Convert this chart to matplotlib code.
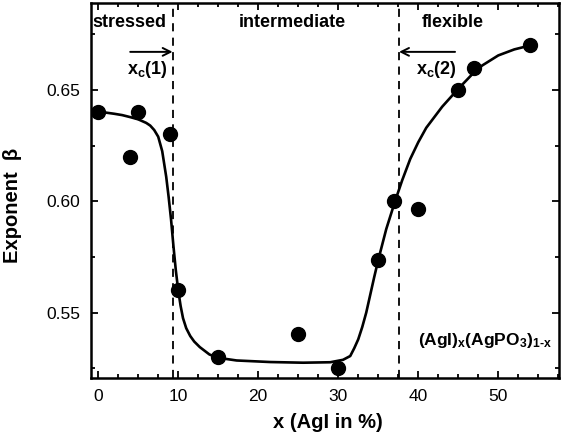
import matplotlib
matplotlib.use("Agg")
import matplotlib.pyplot as plt
from matplotlib.ticker import MultipleLocator, FormatStrFormatter

plt.rcParams['font.family'] = ['Liberation Sans', 'DejaVu Sans']
plt.rcParams['mathtext.fontset'] = 'custom'
plt.rcParams['mathtext.rm'] = 'Liberation Sans:bold'
plt.rcParams['mathtext.bf'] = 'Liberation Sans:bold'
plt.rcParams['mathtext.default'] = 'bf'

# measured points
x_pts = [0, 4, 5, 9, 10, 15, 25, 30, 35, 37, 40, 45, 47, 54]
beta_pts = [0.640, 0.620, 0.640, 0.630, 0.560, 0.530, 0.5405, 0.5252,
            0.5736, 0.600, 0.5964, 0.650, 0.660, 0.670]

# guide-to-the-eye curve
curve_x = [0, 1, 2, 3, 4, 5, 6, 6.5, 7, 7.5, 8, 8.5, 8.8, 9.1, 9.4, 9.7,
           10.0, 10.3, 10.6, 11, 11.5, 12, 12.7, 13.9, 15, 17.3, 21.5, 25.6,
           29, 30.6, 31.5, 32, 32.5, 33, 33.5, 34, 34.5, 35, 36, 37.1,
           38, 39, 40, 41, 43, 45, 47, 48, 50, 52, 54]
curve_y = [0.6402, 0.6398, 0.6393, 0.6387, 0.6378, 0.6368, 0.6352, 0.634,
           0.632, 0.629, 0.6225, 0.611, 0.602, 0.592, 0.580, 0.569,
           0.560, 0.553, 0.5475, 0.543, 0.5395, 0.537, 0.5345, 0.5312,
           0.5297, 0.5285, 0.5278, 0.5275, 0.5277, 0.5288, 0.5305, 0.534,
           0.538, 0.5435, 0.550, 0.558, 0.566, 0.5736, 0.5875, 0.600,
           0.6095, 0.619, 0.6265, 0.633, 0.6425, 0.6505, 0.658, 0.661,
           0.6655, 0.6682, 0.670]

xc1, xc2 = 9.3, 37.6

fig = plt.figure(figsize=(5.67, 4.44), dpi=100)
ax = fig.add_axes([0.1605, 0.148, 0.8255, 0.845])

ax.plot(curve_x, curve_y, color='black', lw=1.9, zorder=2)
ax.plot(x_pts, beta_pts, 'o', color='black', ms=10, zorder=3)

for xc in (xc1, xc2):
    ax.axvline(xc, color='black', lw=1.3, ls=(0, (4.5, 3.5)), zorder=1)

ax.set_xlim(-0.9, 57.6)
ax.set_ylim(0.5205, 0.689)
ax.xaxis.set_major_locator(MultipleLocator(10))
ax.xaxis.set_minor_locator(MultipleLocator(2.5))
ax.yaxis.set_major_locator(MultipleLocator(0.05))
ax.yaxis.set_minor_locator(MultipleLocator(0.025))
ax.yaxis.set_major_formatter(FormatStrFormatter('%.2f'))

ax.tick_params(which='both', direction='in', top=True, right=True,
               labelsize=12.5, width=1.3)
ax.tick_params(which='major', length=5, pad=8)
ax.tick_params(which='minor', length=3)
for s in ax.spines.values():
    s.set_linewidth(1.8)

ax.set_xlabel('x (AgI in %)', fontsize=14.5, fontweight='bold')
ax.xaxis.set_label_coords(0.507, -0.092)
ax.set_ylabel('Exponent  β', fontsize=14.5, fontweight='bold')
ax.yaxis.set_label_coords(-0.148, 0.461)

ax.text(3.9, 0.6803, 'stressed', fontsize=13, fontweight='bold',
        ha='center', va='center')
ax.text(24.3, 0.6803, 'intermediate', fontsize=13, fontweight='bold',
        ha='center', va='center')
ax.text(44.3, 0.6803, 'flexible', fontsize=13, fontweight='bold',
        ha='center', va='center')

ax.annotate('', xy=(xc1, 0.6671), xytext=(4.0, 0.6671),
            arrowprops=dict(arrowstyle='->', color='black', lw=1.4,
                            mutation_scale=14, shrinkA=0, shrinkB=0))
ax.annotate('', xy=(xc2, 0.6671), xytext=(44.6, 0.6671),
            arrowprops=dict(arrowstyle='->', color='black', lw=1.4,
                            mutation_scale=14, shrinkA=0, shrinkB=0))
ax.text(6.1, 0.6594, 'x$_{c}$(1)', fontsize=13, fontweight='bold',
        ha='center', va='center')
ax.text(42.3, 0.6594, 'x$_{c}$(2)', fontsize=13, fontweight='bold',
        ha='center', va='center')

ax.text(48.3, 0.5375, r'(AgI)$_{x}$(AgPO$_{3}$)$_{1\text{-}x}$',
        fontsize=12.5, fontweight='bold', ha='center', va='center')

fig.savefig('out.png', dpi=100)
